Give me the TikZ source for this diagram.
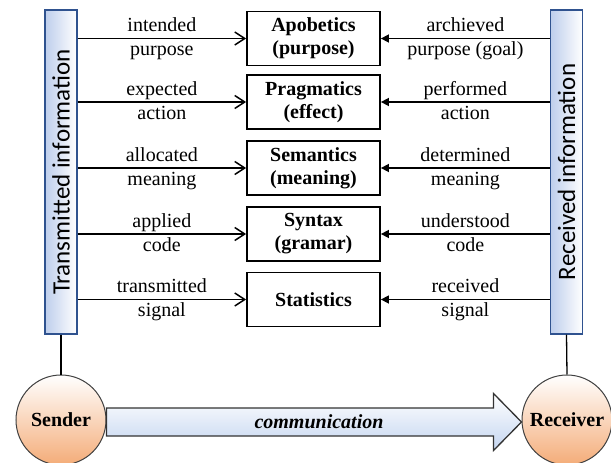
\documentclass[tikz,border=0pt]{standalone}
\usepackage{fontspec}
\setmainfont{Liberation Serif}
\newfontfamily\barfont{Carlito}
\usetikzlibrary{arrows.meta,calc}

\definecolor{barblue}{RGB}{190,206,236}
\definecolor{barline}{RGB}{47,82,143}
\definecolor{peach}{RGB}{244,172,120}
\definecolor{shaftblue}{RGB}{196,213,240}

\tikzset{
  layer/.style={draw, line width=1.8pt, minimum width=133pt, minimum height=54pt,
    align=center, inner sep=0pt, font=\fontsize{20}{23}\selectfont\bfseries},
  infobar/.style={draw=barline, line width=1.3pt, left color=barblue, right color=white,
    minimum width=32pt, minimum height=324pt, inner sep=0pt},
  bartext/.style={rotate=90, inner sep=0pt, font=\barfont\fontsize{25}{25}\selectfont},
  party/.style={circle, draw=black!75, line width=1pt, top color=white, bottom color=peach,
    minimum size=90pt, inner sep=0pt, font=\fontsize{20}{23}\selectfont\bfseries},
  sendarrow/.style={line width=1.5pt, -{Straight Barb[length=10pt,width=13pt,line width=1.5pt]}},
  recvarrow/.style={line width=1.5pt, -{Triangle[length=8pt,width=8pt]}},
  lbl/.style={font=\fontsize{20}{23}\selectfont, text height=15pt, text depth=4.5pt, inner sep=1.5pt},
}

\begin{document}
\begin{tikzpicture}[x=1pt, y=-1pt]
  \useasboundingbox (0,0) rectangle (611,463);

  % information bars
  \node[infobar] (tbar) at (61,172) {};
  \node[bartext] (ttext) at (tbar.center) {Transmitted information};
  \node[infobar] (rbar) at (566.5,172) {};
  \node[bartext] (rtext) at (rbar.center) {Received information};

  % layers
  \node[layer] (apo) at (313.5,38.5) {Apobetics\\(purpose)};
  \node[layer] (prag) at (313.5,102) {Pragmatics\\(effect)};
  \node[layer] (sem) at (313.5,168) {Semantics\\(meaning)};
  \node[layer] (syn) at (313.5,234) {Syntax\\(gramar)};
  \node[layer] (stat) at (313.5,299.5) {Statistics};

  % sender side
  \draw[sendarrow] (tbar.east |- apo.west) -- node[lbl,above] (s1a) {intended}
    node[lbl,below] (s1b) {purpose} (apo.west);
  \draw[sendarrow] (tbar.east |- prag.west) -- node[lbl,above] (s2a) {expected}
    node[lbl,below] (s2b) {action} (prag.west);
  \draw[sendarrow] (tbar.east |- sem.west) -- node[lbl,above] (s3a) {allocated}
    node[lbl,below] (s3b) {meaning} (sem.west);
  \draw[sendarrow] (tbar.east |- syn.west) -- node[lbl,above] (s4a) {applied}
    node[lbl,below] (s4b) {code} (syn.west);
  \draw[sendarrow] (tbar.east |- stat.west) -- node[lbl,above] (s5a) {transmitted}
    node[lbl,below] (s5b) {signal} (stat.west);

  % receiver side
  \draw[recvarrow] (rbar.west |- apo.east) -- node[lbl,above] (r1a) {archieved}
    node[lbl,below] (r1b) {purpose (goal)} (apo.east);
  \draw[recvarrow] (rbar.west |- prag.east) -- node[lbl,above] (r2a) {performed}
    node[lbl,below] (r2b) {action} (prag.east);
  \draw[recvarrow] (rbar.west |- sem.east) -- node[lbl,above] (r3a) {determined}
    node[lbl,below] (r3b) {meaning} (sem.east);
  \draw[recvarrow] (rbar.west |- syn.east) -- node[lbl,above] (r4a) {understood}
    node[lbl,below] (r4b) {code} (syn.east);
  \draw[recvarrow] (rbar.west |- stat.east) -- node[lbl,above] (r5a) {received}
    node[lbl,below] (r5b) {signal} (stat.east);

  % sender and receiver
  \node[party] (sender) at (61,420) {Sender};
  \node[party] (receiver) at (567,420) {Receiver};
  \draw[line width=1.3pt] (tbar.south) -- (sender.north);
  \draw[line width=1.3pt] (rbar.south) -- (receiver.north);

  % communication arrow
  \path[draw=black!80, line width=1.3pt, top color=white, bottom color=shaftblue]
    ($(sender.east)+(0,-12)$) -- ($(receiver.west)+(-28,-12)$) -- ++(0,-14.5)
    -- ($(receiver.west)+(0,2)$) -- ($(receiver.west)+(-28,30.5)$) -- ++(0,-14.5)
    -- ($(sender.east)+(0,16)$) -- cycle;
  \node[font=\fontsize{20}{23}\selectfont\bfseries\itshape] (comm) at (319,422) {communication};
\end{tikzpicture}
\end{document}
